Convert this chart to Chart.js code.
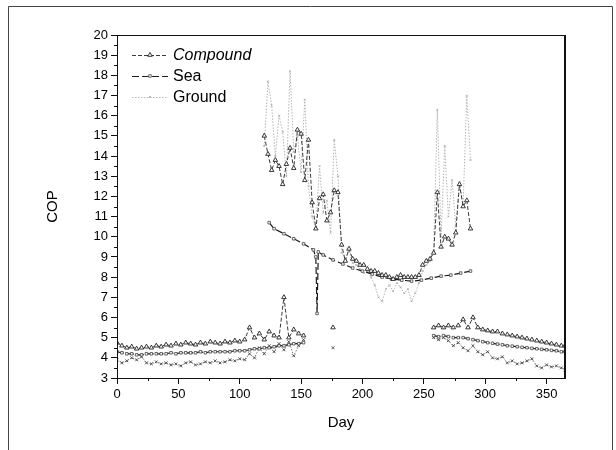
<!DOCTYPE html>
<html>
<head>
<meta charset="utf-8">
<script src="https://cdn.jsdelivr.net/npm/chart.js@4.4.1/dist/chart.umd.min.js"></script>
<style>
  html, body { margin: 0; padding: 0; background: #fff; }
</style>
</head>
<body>
<canvas id="c" width="616" height="450"></canvas>
<script>
// heating season, first part of the year (plus two stray points)
const heatDaysA = [0,4,8,12,16,20,24,28,32,36,40,44,48,52,56,60,64,68,72,76,80,84,88,92,96,100,104,108,112,116,120,124,128,132,136,140,144,148,152,164,176];
const compoundHeatA = [4.75,4.6,4.5,4.55,4.45,4.5,4.55,4.5,4.6,4.55,4.65,4.6,4.7,4.65,4.75,4.7,4.65,4.75,4.7,4.8,4.75,4.7,4.8,4.75,4.85,4.8,4.9,5.5,5.0,5.2,4.9,5.3,5.1,5.0,7.0,5.0,5.4,5.2,5.1,null,5.5];
const seaHeatA = [4.3,4.25,4.2,4.2,4.15,4.15,4.2,4.2,4.2,4.2,4.2,4.25,4.2,4.25,4.25,4.25,4.25,4.3,4.25,4.3,4.3,4.3,4.3,4.3,4.35,4.35,4.35,4.4,4.45,4.45,4.5,4.5,4.55,4.6,4.6,4.65,4.7,4.7,4.75,null,null];
const groundHeatA = [3.9,3.75,3.85,4.0,3.9,4.05,3.75,3.7,3.8,3.7,3.75,3.65,3.7,3.6,3.75,3.8,3.65,3.7,3.8,3.75,3.85,3.75,3.8,3.9,3.85,3.95,3.9,4.2,4.0,4.5,4.2,4.6,4.3,4.7,4.4,4.8,4.1,4.6,4.9,null,4.5];

// cooling season
const coolDays = [120,123,126,129,132,135,138,141,144,147,150,153,156,159,162,165,168,171,174,177,180,183,186,189,192,195,198,201,204,207,210,213,216,219,222,225,228,231,234,237,240,243,246,249,252,255,258,261,264,267,270,273,276,279,282,285,288];
const compoundCool = [15.0,14.1,13.3,13.8,13.5,12.6,13.6,14.4,13.4,15.3,15.1,12.8,14.8,11.7,10.4,11.9,12.1,10.8,11.2,12.3,12.2,9.6,8.8,9.4,8.9,8.8,8.6,8.6,8.4,8.3,8.3,8.2,8.1,8.1,8.0,7.9,8.0,8.1,8.0,8.0,8.0,8.0,8.1,8.6,8.8,8.9,9.2,12.2,9.5,10.0,9.9,9.6,10.2,12.6,11.5,11.8,10.4];
const groundCool = [14.5,17.7,16.5,14.0,16.0,15.2,13.0,18.2,14.2,15.0,13.2,16.8,12.5,11.0,10.5,13.5,11.2,11.8,10.2,14.8,13.0,9.2,8.9,9.3,8.7,8.6,8.4,8.2,8.3,8.0,7.6,7.0,6.8,7.4,7.6,7.3,7.7,7.5,7.2,7.4,6.8,7.2,7.7,8.3,8.6,8.8,9.3,16.3,10.0,14.5,11.0,12.8,10.5,12.7,11.6,17.0,13.8];
const seaCoolDays = [124,128,136,144,152,160,162,163,164,168,176,184,192,200,208,216,224,232,240,248,256,264,272,280,288];
const seaCool = [10.7,10.4,10.15,9.9,9.65,9.35,9.0,6.2,9.25,9.1,8.85,8.65,8.45,8.3,8.15,8.0,7.9,7.85,7.8,7.85,7.95,8.05,8.1,8.2,8.3];

// heating season, end of the year
const heatDaysB = [258,262,266,270,274,278,282,286,290,294,298,302,306,310,314,318,322,326,330,334,338,342,346,350,354,358,362,365];
const compoundHeatB = [5.5,5.6,5.5,5.6,5.5,5.6,5.9,5.5,6.0,5.5,5.4,5.35,5.3,5.3,5.2,5.15,5.1,5.05,5.0,4.95,4.9,4.85,4.8,4.75,4.7,4.65,4.6,4.6];
const seaHeatB = [5.1,5.05,5.1,5.05,5.0,5.0,5.0,4.95,4.9,4.85,4.8,4.75,4.72,4.68,4.65,4.6,4.58,4.55,4.52,4.5,4.47,4.45,4.42,4.4,4.37,4.35,4.3,4.3];
const groundHeatB = [5.0,4.9,5.0,4.85,4.6,4.75,4.5,4.35,4.6,4.3,4.15,4.3,4.0,3.95,4.05,3.75,3.85,3.7,3.75,3.85,3.95,3.6,3.5,3.65,3.55,3.6,3.5,3.4];

const yTicks = [3,4,5,6,7,8,9,10,11,12,13,14,15,16,17,18,19,20];

const pts = (days, vals) => days.map((d, i) => ({ x: d, y: vals[i] }));

const compoundStyle = {
  borderColor: '#3a3a3a', borderWidth: 1, borderDash: [4, 2],
  pointStyle: 'triangle', pointRadius: 2.6, pointBorderWidth: 0.9,
  pointBorderColor: '#222', pointBackgroundColor: '#fff'
};
const seaStyle = {
  borderColor: '#1a1a1a', borderWidth: 1.2, borderDash: [7, 3],
  pointStyle: 'rect', pointRadius: 1.8, pointBorderWidth: 0.8,
  pointBorderColor: '#444', pointBackgroundColor: '#fff'
};
const groundStyle = {
  borderColor: '#777', borderWidth: 1, borderDash: [1.5, 1.5],
  pointStyle: 'crossRot', pointRadius: 2, pointBorderWidth: 0.9,
  pointBorderColor: '#444', pointBackgroundColor: '#444'
};
const groundCoolStyle = Object.assign({}, groundStyle, {
  borderColor: '#b5b5b5', pointRadius: 1.2, pointBorderColor: '#aaa'
});

const datasets = [
  Object.assign({ label: 'Compound', data: pts(heatDaysA, compoundHeatA) }, compoundStyle),
  Object.assign({ label: 'Compound', data: pts(coolDays, compoundCool) }, compoundStyle),
  Object.assign({ label: 'Compound', data: pts(heatDaysB, compoundHeatB) }, compoundStyle),
  Object.assign({ label: 'Sea', data: pts(heatDaysA, seaHeatA) }, seaStyle),
  Object.assign({ label: 'Sea', data: pts(seaCoolDays, seaCool) }, seaStyle),
  Object.assign({ label: 'Sea', data: pts(heatDaysB, seaHeatB) }, seaStyle),
  Object.assign({ label: 'Ground', data: pts(heatDaysA, groundHeatA) }, groundStyle),
  Object.assign({ label: 'Ground', data: pts(coolDays, groundCool) }, groundCoolStyle),
  Object.assign({ label: 'Ground', data: pts(heatDaysB, groundHeatB) }, groundStyle)
];

const legendItems = [
  { text: 'Compound', style: compoundStyle, italic: true },
  { text: 'Sea', style: seaStyle, italic: false },
  { text: 'Ground', style: groundCoolStyle, italic: false }
];

const FONT = "'Liberation Sans', Arial, sans-serif";
Chart.defaults.font.family = FONT;
Chart.defaults.color = '#000';

// box, minor ticks, page frame and the in-plot legend
const paper = {
  id: 'paper',
  afterDraw(chart) {
    const { ctx, chartArea: a, scales: { x, y } } = chart;
    ctx.save();
    ctx.setLineDash([]);
    ctx.strokeStyle = '#111';
    ctx.lineWidth = 1;
    ctx.beginPath();
    ctx.moveTo(a.left + 0.5, a.bottom + 0.5);
    ctx.lineTo(a.left + 0.5, a.top + 0.5);
    ctx.lineTo(a.right, a.top + 0.5);
    ctx.moveTo(a.left, a.bottom + 0.5);
    ctx.lineTo(a.right, a.bottom + 0.5);
    for (let v = 3.5; v < 20; v += 1) {
      const py = Math.round(y.getPixelForValue(v)) + 0.5;
      ctx.moveTo(a.left - 3, py); ctx.lineTo(a.left, py);
    }
    for (let d = 25; d < 365; d += 50) {
      const px = Math.round(x.getPixelForValue(d)) + 0.5;
      ctx.moveTo(px, a.bottom); ctx.lineTo(px, a.bottom + 3);
    }
    ctx.stroke();
    ctx.lineWidth = 2;
    ctx.beginPath();
    ctx.moveTo(a.right, a.top);
    ctx.lineTo(a.right, a.bottom + 1);
    ctx.stroke();

    // page frame
    ctx.strokeStyle = '#444';
    ctx.lineWidth = 1;
    ctx.beginPath();
    ctx.moveTo(8.5, 450);
    ctx.lineTo(8.5, 6.5);
    ctx.lineTo(612.5, 6.5);
    ctx.lineTo(612.5, 450);
    ctx.stroke();

    // legend
    legendItems.forEach((it, i) => {
      const ly = 55 + i * 21;
      const s = it.style;
      ctx.strokeStyle = s.borderColor;
      ctx.lineWidth = s.borderWidth;
      ctx.setLineDash(s.borderDash);
      ctx.beginPath();
      ctx.moveTo(132, ly + 0.5);
      ctx.lineTo(168, ly + 0.5);
      ctx.stroke();
      ctx.setLineDash([]);
      ctx.fillStyle = s.pointBackgroundColor;
      ctx.strokeStyle = s.pointBorderColor;
      ctx.lineWidth = s.pointBorderWidth;
      Chart.helpers.drawPoint(ctx, {
        pointStyle: s.pointStyle, radius: s.pointRadius, borderWidth: s.pointBorderWidth, rotation: 0
      }, 150, ly);
      ctx.fillStyle = '#000';
      ctx.font = (it.italic ? 'italic ' : '') + '16px ' + FONT;
      ctx.textBaseline = 'middle';
      ctx.fillText(it.text, 173, ly + 1);
    });
    ctx.restore();
  }
};

new Chart(document.getElementById('c'), {
  type: 'line',
  data: { datasets: datasets },
  options: {
    responsive: false,
    animation: false,
    devicePixelRatio: 1,
    layout: { padding: { left: 0, top: 35, right: 51, bottom: 0 } },
    plugins: { legend: { display: false }, tooltip: { enabled: false } },
    elements: { line: { tension: 0 } },
    scales: {
      x: {
        type: 'linear', min: 0, max: 365,
        afterFit: (s) => { s.height = 72; },
        ticks: { stepSize: 50, includeBounds: false, autoSkip: false, maxRotation: 0, padding: 3, font: { size: 13 }, color: '#000' },
        grid: { drawOnChartArea: false, tickLength: 6, tickColor: '#111' },
        border: { color: '#111' },
        title: { display: true, text: 'Day', font: { size: 15 }, color: '#000', padding: { top: 0, bottom: 18 } }
      },
      y: {
        type: 'linear', min: 3, max: 20,
        afterFit: (s) => { s.width = 117; },
        afterBuildTicks: (s) => { s.ticks = yTicks.map(v => ({ value: v })); },
        ticks: { autoSkip: false, padding: 3, font: { size: 13 }, color: '#000' },
        grid: { drawOnChartArea: false, tickLength: 6, tickColor: '#111' },
        border: { color: '#111' },
        title: { display: true, text: 'COP', font: { size: 15 }, color: '#000', padding: { top: 44, bottom: 0 } }
      }
    }
  },
  plugins: [paper]
});
</script>
</body>
</html>
